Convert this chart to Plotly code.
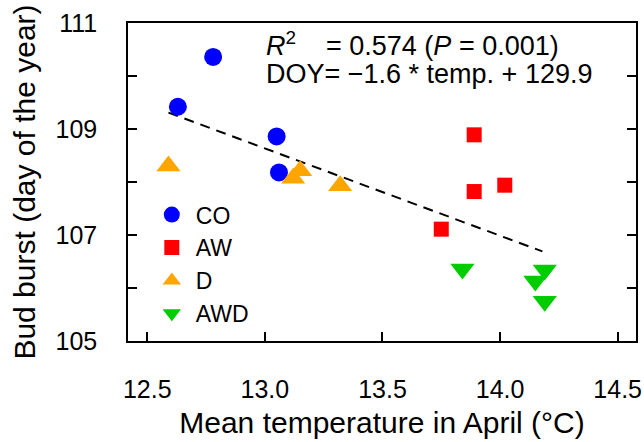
import plotly.graph_objects as go

# ---- data ----
co_temp = [12.78, 12.63, 13.05, 13.06]
co_doy = [110.36, 109.42, 108.86, 108.18]

aw_temp = [13.89, 13.89, 14.02, 13.75]
aw_doy = [108.89, 107.82, 107.94, 107.11]

d_temp = [12.59, 13.15, 13.12, 13.32]
d_doy = [108.30, 108.21, 108.07, 107.93]

awd_temp = [13.84, 14.19, 14.15, 14.19]
awd_doy = [106.36, 106.34, 106.13, 105.75]

fit_temp = [12.59, 14.18]
fit_doy = [109.31, 106.69]

x_ticks = [12.5, 13.0, 13.5, 14.0, 14.5]
x_ticklabels = ["12.5", "13.0", "13.5", "14.0", "14.5"]
y_ticks = [105, 107, 109, 111]
y_ticklabels = ["105", "107", "109", "111"]

FONT = "Arial, 'Liberation Sans', sans-serif"
FS = 25

fig = go.Figure()
fig.add_trace(go.Scatter(x=fit_temp, y=fit_doy, mode="lines",
                         line=dict(color="black", width=2, dash="10px,7px"),
                         showlegend=False, hoverinfo="skip"))
fig.add_trace(go.Scatter(x=co_temp, y=co_doy, mode="markers", name="CO",
                         marker=dict(symbol="circle", size=18, color="#0000FF")))
fig.add_trace(go.Scatter(x=aw_temp, y=aw_doy, mode="markers", name="AW",
                         marker=dict(symbol="square", size=15, color="#FF0000")))
fig.add_trace(go.Scatter(x=d_temp, y=d_doy, mode="markers", name="D",
                         marker=dict(symbol="triangle-up", size=21, color="#FFA500")))
fig.add_trace(go.Scatter(x=awd_temp, y=awd_doy, mode="markers", name="AWD",
                         marker=dict(symbol="triangle-down", size=21, color="#00CC00")))

fig.update_layout(
    width=644, height=442,
    margin=dict(l=128, r=8, t=23, b=101, autoexpand=False),
    paper_bgcolor="white", plot_bgcolor="white",
    font=dict(family=FONT, size=FS, color="black"),
    showlegend=True,
    legend=dict(x=0.039, y=0.465, xanchor="left", yanchor="top",
                bgcolor="rgba(0,0,0,0)", font=dict(size=23),
                itemsizing="trace", itemwidth=38),
    xaxis=dict(range=[12.418, 14.578], tickvals=x_ticks, ticktext=x_ticklabels,
               ticks="inside", ticklen=9, tickwidth=1.5, tickcolor="black",
               showline=True, linecolor="black", linewidth=1.5, mirror=True,
               showgrid=False, zeroline=False, ticklabelstandoff=25,
               automargin=False,
               title=dict(text="Mean temperature in April (°C)", standoff=10)),
    yaxis=dict(range=[105, 111], tickvals=y_ticks, ticktext=y_ticklabels,
               ticks="inside", ticklen=9, tickwidth=1.5, tickcolor="black",
               showline=True, linecolor="black", linewidth=1.5, mirror="ticks",
               showgrid=False, zeroline=False, ticklabelstandoff=24,
               automargin=False,
               minor=dict(dtick=1, tick0=105, ticks="inside", ticklen=9,
                          tickwidth=1.5, tickcolor="black", showgrid=False),
               title=dict(text="Bud burst (day of the year)", standoff=11)),
    annotations=[
        dict(xref="paper", yref="paper", x=0.267, y=0.935, xanchor="left", yanchor="middle",
             showarrow=False, align="left", font=dict(size=27),
             text="<i>R</i><sup>2</sup>\u00a0\u00a0\u00a0\u00a0= 0.574 (<i>P</i> = 0.001)"),
        dict(xref="paper", yref="paper", x=0.267, y=0.840, xanchor="left", yanchor="middle",
             showarrow=False, align="left", font=dict(size=27),
             text="DOY= \u22121.6 * temp. + 129.9"),
    ],
)

# remove the default 8px page margin so the figure sits at the window's corner
fig.write_html("out.html",
               config={"displayModeBar": False},
               post_script="document.body.style.margin='0';"
                           "document.body.style.overflow='hidden';")
